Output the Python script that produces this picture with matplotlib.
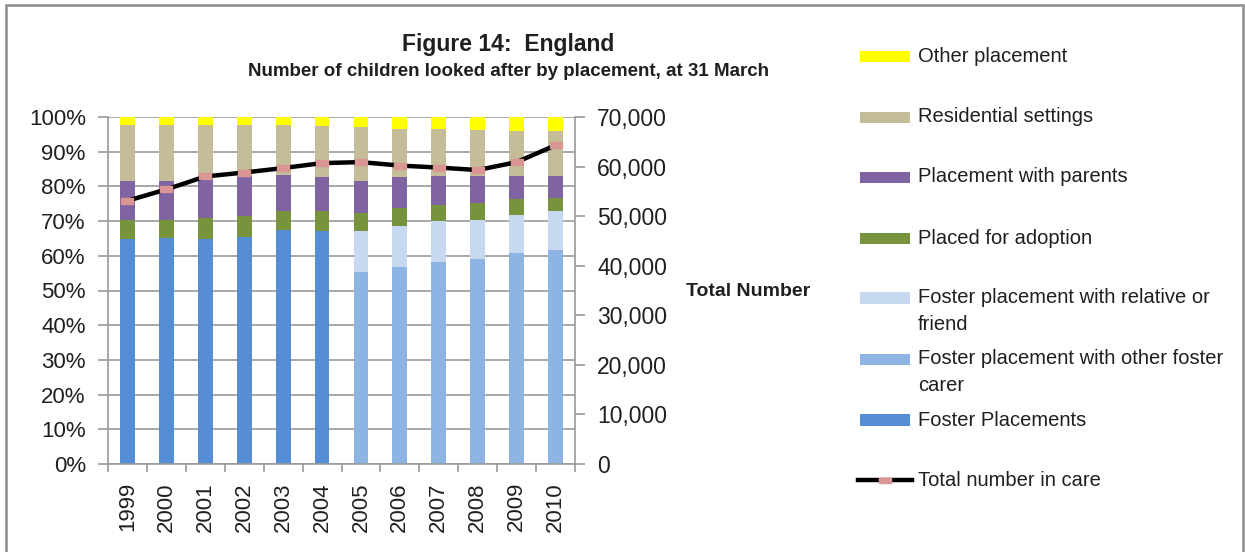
import matplotlib
matplotlib.use("Agg")
import matplotlib.pyplot as plt
import numpy as np
from matplotlib.patches import Rectangle
from matplotlib.lines import Line2D

plt.rcParams["font.family"] = ["Liberation Sans", "DejaVu Sans"]

years = ["1999", "2000", "2001", "2002", "2003", "2004",
         "2005", "2006", "2007", "2008", "2009", "2010"]

# stacked shares (%), bottom to top
foster_placements = [64.7, 65.2, 64.7, 65.5, 67.4, 67.1, 0, 0, 0, 0, 0, 0]
foster_other = [0, 0, 0, 0, 0, 0, 55.2, 56.7, 58.2, 59.0, 60.8, 61.8]
foster_relative = [0, 0, 0, 0, 0, 0, 11.9, 11.9, 11.8, 11.4, 11.1, 11.2]
adoption = [5.6, 5.1, 6.1, 6.0, 5.6, 5.9, 5.2, 5.2, 4.5, 4.8, 4.4, 3.7]
with_parents = [11.3, 11.3, 11.3, 11.5, 10.4, 9.7, 9.3, 8.9, 8.5, 7.8, 6.7, 6.3]
residential = [16.2, 16.2, 15.7, 14.8, 14.4, 14.8, 15.5, 13.9, 13.6, 13.3, 13.1, 13.1]
other = [2.2, 2.2, 2.2, 2.2, 2.2, 2.5, 2.9, 3.4, 3.4, 3.7, 3.9, 3.9]

total_in_care = [53100, 55400, 58000, 58800, 59700, 60700,
                 60900, 60200, 59800, 59300, 60900, 64300]

series = [
    ("Foster Placements", foster_placements, "#558ED5"),
    ("Foster placement with other foster\ncarer", foster_other, "#8EB4E3"),
    ("Foster placement with relative or\nfriend", foster_relative, "#C6D9F1"),
    ("Placed for adoption", adoption, "#77933C"),
    ("Placement with parents", with_parents, "#8064A2"),
    ("Residential settings", residential, "#C4BD97"),
    ("Other placement", other, "#FFFF00"),
]

W, H = 1245, 552
fig = plt.figure(figsize=(W / 100, H / 100), dpi=100)


def fx(px):
    return px / W


def fy(py):
    return 1 - py / H


ax = fig.add_axes([fx(108), fy(464), fx(575) - fx(108), fy(117) - fy(464)])
x = np.arange(len(years))
bottom = np.zeros(len(years))
for name, vals, col in series:
    ax.bar(x, vals, 0.38, bottom=bottom, color=col, zorder=2)
    bottom += np.array(vals)

grid_col = "#9a9a9a"
txt_col = "#1f1f1f"
ax.set_xlim(-0.5, len(years) - 0.5)
ax.set_ylim(0, 100)
ax.set_yticks(np.arange(0, 101, 10))
ax.set_yticklabels([f"{v}%" for v in range(0, 101, 10)], fontsize=16, color=txt_col)
ax.yaxis.grid(True, color=grid_col, linewidth=1.2, zorder=0)
ax.set_axisbelow(True)
ax.set_xticks(x)
ax.set_xticklabels(years, rotation=90, fontsize=16, color=txt_col)
ax.set_xticks(np.arange(-0.5, len(years), 1), minor=True)
ax.tick_params(axis="x", which="major", length=0, pad=13)
ax.tick_params(axis="x", which="minor", length=6, color=grid_col, width=1.2)
ax.tick_params(axis="y", length=7, color=grid_col, width=1.2, pad=9)
for s in ["top", "right"]:
    ax.spines[s].set_visible(False)
for s in ["left", "bottom"]:
    ax.spines[s].set_color(grid_col)
    ax.spines[s].set_linewidth(1.2)

ax2 = ax.twinx()
ax2.set_ylim(0, 70000)
ax2.set_yticks(np.arange(0, 70001, 10000))
ax2.set_yticklabels([f"{v:,}" for v in range(0, 70001, 10000)], fontsize=16.5, color=txt_col)
ax2.tick_params(axis="y", length=7, color=grid_col, width=1.2, pad=9)
for s in ["top", "left", "bottom"]:
    ax2.spines[s].set_visible(False)
ax2.spines["right"].set_color(grid_col)
ax2.spines["right"].set_linewidth(1.2)
rect_marker = [(-1, -0.45), (1, -0.45), (1, 0.45), (-1, 0.45), (-1, -0.45)]
ax2.plot(x, total_in_care, color="black", linewidth=3.2, marker=rect_marker,
         markersize=9, markerfacecolor="#D99694", markeredgecolor="#D99694",
         zorder=5)
fig.text(fx(686), fy(292), "Total Number", fontsize=14, fontweight="bold",
         ha="left", va="center", color=txt_col)

fig.text(fx(508), fy(44), "Figure 14:  England", fontsize=16.5, fontweight="bold",
         ha="center", va="center", color=txt_col)
fig.text(fx(508), fy(72), "Number of children looked after by placement, at 31 March",
         fontsize=13.5, fontweight="bold", ha="center", va="center", color=txt_col)

# legend, drawn by hand to match spacing
legend_rows = [56, 117, 177, 238, 298, 359, 420]
for (name, vals, col), y in zip(reversed(series), legend_rows):
    fig.add_artist(Rectangle((fx(860), fy(y + 5.5)), fx(50), fy(y - 5.5) - fy(y + 5.5),
                             facecolor=col, edgecolor="none", transform=fig.transFigure))
    if "\n" in name:
        fig.text(fx(918), fy(y + 13), name, fontsize=14.5, ha="left", va="center",
                 color=txt_col, linespacing=1.47)
    else:
        fig.text(fx(918), fy(y), name, fontsize=14.5, ha="left", va="center",
                 color=txt_col)
fig.add_artist(Line2D([fx(858), fx(912)], [fy(480), fy(480)], color="black",
                      linewidth=3.2, transform=fig.transFigure))
fig.add_artist(Line2D([fx(885)], [fy(480)], marker=rect_marker, markersize=8,
                      color="#D99694", linestyle="none", transform=fig.transFigure))
fig.text(fx(918), fy(480), "Total number in care", fontsize=14.5, ha="left",
         va="center", color=txt_col)

# outer frame (bottom edge runs off the image)
fig.add_artist(Rectangle((fx(6), fy(560)), fx(1237), fy(5) - fy(560), fill=False,
                         edgecolor="#8c8c8c", linewidth=1.8, transform=fig.transFigure))

fig.savefig("out.png", dpi=100)
